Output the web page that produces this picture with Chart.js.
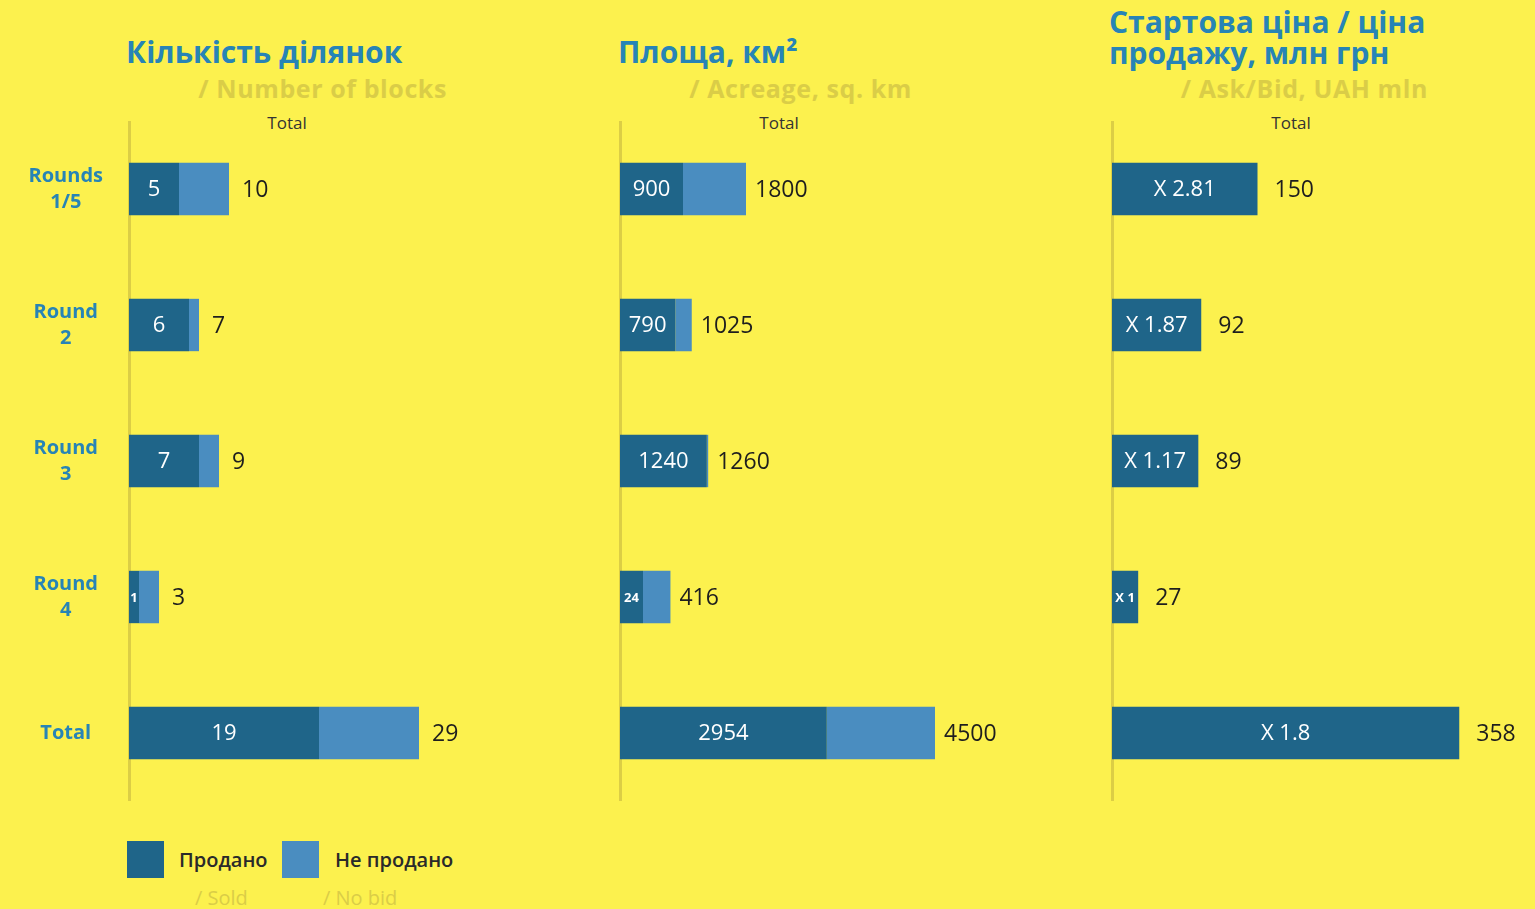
<!DOCTYPE html>
<html>
<head>
<meta charset="utf-8">
<script src="https://cdn.jsdelivr.net/npm/chart.js@4"></script>
<style>
  body { margin: 0; background: #FCF14E; font-family: "Open Sans", sans-serif; }
  #page { position: relative; width: 1535px; height: 909px; overflow: hidden; }
  canvas { position: absolute; }
  .title { position: absolute; color: #2784B6; font-weight: 700; font-size: 30px; line-height: 31px; white-space: nowrap; }
  .sub { position: absolute; color: #DACD47; font-weight: 700; font-size: 25px; letter-spacing: 0.6px; white-space: nowrap; text-align: right; }
  .total { position: absolute; color: #333; font-size: 17px; white-space: nowrap; transform: translateX(-50%); }
  .sw { position: absolute; width: 37px; height: 37px; }
  .lg { position: absolute; color: #2a2a2a; font-size: 20px; font-weight: 600; white-space: nowrap; }
  .lgsub { position: absolute; color: #DACD47; font-size: 20px; white-space: nowrap; }
</style>
</head>
<body>
<div id="page">
  <div class="title" style="left:126px;top:36px;">Кількість ділянок</div>
  <div class="sub" style="right:1088px;top:71px;">/ Number of blocks</div>
  <div class="title" style="left:618px;top:36px;">Площа, км²</div>
  <div class="sub" style="right:623px;top:71px;">/ Acreage, sq. km</div>
  <div class="title" style="left:1109px;top:6px;">Стартова ціна / ціна<br>продажу, млн грн</div>
  <div class="sub" style="right:107px;top:71px;">/ Ask/Bid, UAH mln</div>

  <div class="total" style="left:287px;top:111px;">Total</div>
  <div class="total" style="left:779px;top:111px;">Total</div>
  <div class="total" style="left:1291px;top:111px;">Total</div>

  <canvas id="c1" width="480" height="680" style="left:0;top:121px;"></canvas>
  <canvas id="c2" width="480" height="680" style="left:609px;top:121px;"></canvas>
  <canvas id="c3" width="434" height="680" style="left:1101px;top:121px;"></canvas>

  <div class="sw" style="left:127px;top:841px;background:#1F6589;"></div>
  <div class="lg" style="left:179px;top:846px;">Продано</div>
  <div class="sw" style="left:282px;top:841px;background:#4A8DC0;"></div>
  <div class="lg" style="left:335px;top:846px;">Не продано</div>
  <div class="lgsub" style="left:195px;top:884px;">/ Sold</div>
  <div class="lgsub" style="left:323px;top:884px;">/ No bid</div>
</div>
<script>
const rounds = [["Rounds", "1/5"], ["Round", "2"], ["Round", "3"], ["Round", "4"], "Total"];

const blocksSold = [5, 6, 7, 1, 19];
const blocksTotal = [10, 7, 9, 3, 29];

const areaSold = [900, 790, 1240, 24, 2954];
const areaTotal = [1800, 1025, 1260, 416, 4500];

const bidTotal = [150, 92, 89, 27, 358];
const bidRatio = ["X 2.81", "X 1.87", "X 1.17", "X 1", "X 1.8"];

const DARK = "#1F6589";
const LIGHT = "#4A8DC0";
const AXIS = "#DCCE45";

// numbers inside the dark bars and totals to the right
const valueLabels = {
    id: "valueLabels",
    afterDatasetsDraw(chart, args, opts) {
        const ctx = chart.ctx;
        const first = chart.getDatasetMeta(0);
        const last = chart.getDatasetMeta(chart.data.datasets.length - 1);
        ctx.save();
        ctx.textBaseline = "middle";
        first.data.forEach((bar, i) => {
            const w = bar.x - bar.base;
            const txt = String(opts.inner[i]);
            ctx.font = "22px 'Open Sans'";
            if (ctx.measureText(txt).width > w - 6) ctx.font = "bold 13px 'Open Sans'";
            ctx.fillStyle = "#fff";
            ctx.textAlign = "center";
            ctx.fillText(txt, (bar.base + bar.x) / 2, bar.y + 1);

            ctx.font = "500 23px 'Open Sans'";
            ctx.fillStyle = "#1e1e1e";
            ctx.textAlign = "left";
            ctx.fillText(String(opts.totals[i]), last.data[i].x + opts.gap, bar.y + 1);
        });
        ctx.restore();
    }
};

function makeChart(id, datasets, xMax, inner, totals, gap, showLabels) {
    return new Chart(document.getElementById(id), {
        type: "bar",
        data: { labels: rounds, datasets: datasets },
        options: {
            indexAxis: "y",
            responsive: false,
            animation: false,
            layout: { padding: 0 },
            plugins: {
                legend: { display: false },
                tooltip: { enabled: false },
                valueLabels: { inner: inner, totals: totals, gap: gap }
            },
            scales: {
                x: { stacked: true, display: false, min: 0, max: xMax },
                y: {
                    stacked: true,
                    grid: { display: false },
                    border: { display: true, color: AXIS, width: 3 },
                    ticks: {
                        display: showLabels,
                        color: "#2784B6",
                        crossAlign: "center",
                        padding: 18,
                        font: { family: "Open Sans", size: 20, weight: "bold", lineHeight: 1.3 }
                    },
                    afterFit(scale) {
                        scale.width = showLabels ? 129 : 11;
                        scale.paddingTop = 0;
                        scale.paddingBottom = 0;
                    }
                }
            }
        },
        plugins: [valueLabels]
    });
}

const barOpts = { barPercentage: 0.385, categoryPercentage: 1, borderWidth: 0 };

makeChart("c1", [
    { ...barOpts, label: "Продано", data: blocksSold, backgroundColor: DARK, order: 0 },
    { ...barOpts, label: "Не продано", data: blocksTotal.map((t, i) => t - blocksSold[i]), backgroundColor: LIGHT, order: 1 }
], 351 / 10, blocksSold, blocksTotal, 13, true);

makeChart("c2", [
    { ...barOpts, label: "Продано", data: areaSold, backgroundColor: DARK, order: 0, minBarLength: 23 },
    { ...barOpts, label: "Не продано", data: areaTotal.map((t, i) => t - areaSold[i]), backgroundColor: LIGHT, order: 1 }
], 469 / 0.07, areaSold, areaTotal, 9, false);

makeChart("c3", [
    { ...barOpts, label: "Продано", data: bidTotal, backgroundColor: DARK }
], 423 / 0.97, bidRatio, bidTotal, 17, false);
</script>
</body>
</html>
